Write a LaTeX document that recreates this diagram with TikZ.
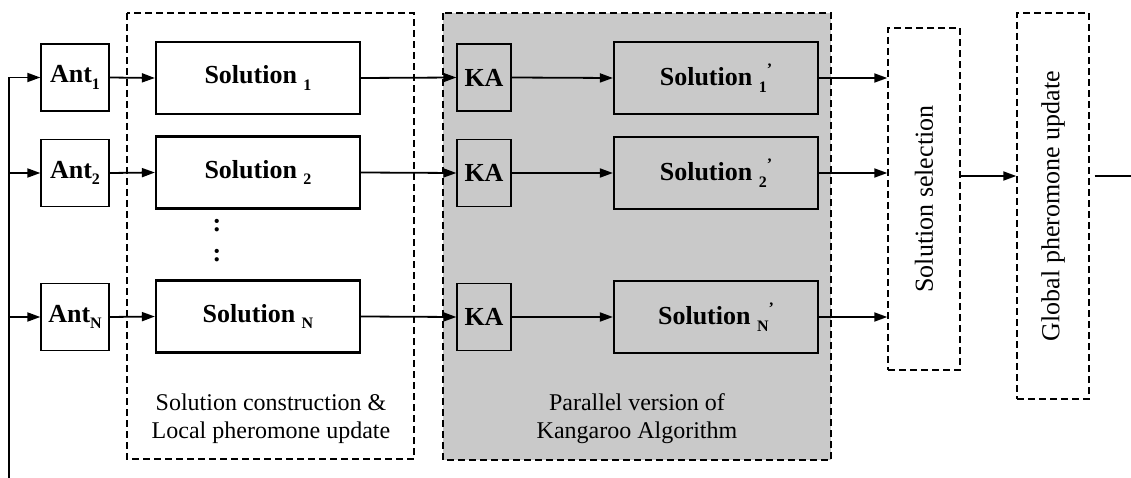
\documentclass[tikz,border=0pt]{standalone}
\usepackage{fontspec}
\setmainfont{Liberation Serif}
\usetikzlibrary{arrows.meta}
\definecolor{kagray}{RGB}{201,201,201}
\newcommand{\sbs}[1]{\raisebox{-0.25em}{\fontsize{16}{16}\selectfont #1}}
\newcommand{\prm}{\raisebox{0.42em}{\fontsize{16}{16}\selectfont '}}
\begin{document}
\begin{tikzpicture}[x=1pt,y=-1pt,>={Triangle[length=13pt,width=9pt]},
	bold/.style={font=\fontsize{26}{30}\selectfont\bfseries},
	antbox/.style={draw,bold,line width=1.3pt,minimum width=68pt,minimum height=67pt,inner sep=0pt},
	kabox/.style={antbox,minimum width=54pt},
	solbox/.style={draw,bold,line width=2.2pt,minimum width=204pt,minimum height=72pt,inner sep=0pt},
	dashbox/.style={draw,line width=1.4pt,dash pattern=on 7pt off 4pt},
	vbox/.style={dashbox,minimum width=72pt,inner sep=0pt,font=\fontsize{26}{30}\selectfont},
	arr/.style={->,line width=1.8pt},
	captxt/.style={align=center,font=\fontsize{24}{28}\selectfont}]
	\useasboundingbox (0,0) rectangle (1131,478);
	% containers
	\draw[dashbox] (127,13) rectangle (414,459);
	\draw[dashbox,fill=kagray] (443,13) rectangle (831,460);
	\node[captxt] (lbla) at (271,419) {Solution construction \&\\Local pheromone update};
	\node[captxt] (lblb) at (637,419) {Parallel version of\\Kangaroo Algorithm};
	% ants
	\node[antbox] (ant1) at (75,77.5) {Ant\sbs{1}};
	\node[antbox] (ant2) at (75,173) {Ant\sbs{2}};
	\node[antbox] (antn) at (75,317) {Ant\sbs{N}};
	% solutions
	\node[solbox] (sol1) at (258,78) {Solution \sbs{1}};
	\node[solbox] (sol2) at (258,172.5) {Solution \sbs{2}};
	\node[solbox] (soln) at (258,316.5) {Solution \sbs{N}};
	\node[bold] (dta) at (217,226) {:};
	\node[bold] (dtb) at (217,256) {:};
	% kangaroo
	\node[kabox] (ka1) at (484,77.5) {KA};
	\node[kabox] (ka2) at (484,173) {KA};
	\node[kabox] (kan) at (484,317) {KA};
	\node[solbox] (solp1) at (716,78) {Solution \sbs{1}\prm};
	\node[solbox] (solp2) at (716,173) {Solution \sbs{2}\prm};
	\node[solbox] (solpn) at (716,317) {Solution \sbs{N}\prm};
	% selection and update
	\node[vbox,minimum height=342pt] (sel) at (924,199) {\rotatebox{90}{Solution selection}};
	\node[vbox,minimum height=386pt] (glob) at (1053,206) {\rotatebox{90}{Global pheromone update}};
	\coordinate (fbot) at (9,478);
	\coordinate (mid) at (990,176);
	\coordinate (fin) at (1131,176);
	% connectors
	\draw[arr] (fbot) |- (ant1.west);
	\draw[arr] (fbot |- ant2) -- (ant2.west);
	\draw[arr] (fbot |- antn) -- (antn.west);
	\draw[arr] (ant1.east) -- (sol1.west);
	\draw[arr] (ant2.east) -- (sol2.west);
	\draw[arr] (antn.east) -- (soln.west);
	\draw[arr] (sol1.east) -- (ka1.west);
	\draw[arr] (sol2.east) -- (ka2.west);
	\draw[arr] (soln.east) -- (kan.west);
	\draw[arr] (ka1.east) -- (solp1.west);
	\draw[arr] (ka2.east) -- (solp2.west);
	\draw[arr] (kan.east) -- (solpn.west);
	\draw[arr] (solp1.east) -- (sel.west |- solp1);
	\draw[arr] (solp2.east) -- (sel.west |- solp2);
	\draw[arr] (solpn.east) -- (sel.west |- solpn);
	\draw[arr] (sel.east |- mid) -- (glob.west |- mid);
	\draw[line width=1.8pt] ([xshift=5pt]glob.east |- fin) -- (fin);
\end{tikzpicture}
\end{document}
